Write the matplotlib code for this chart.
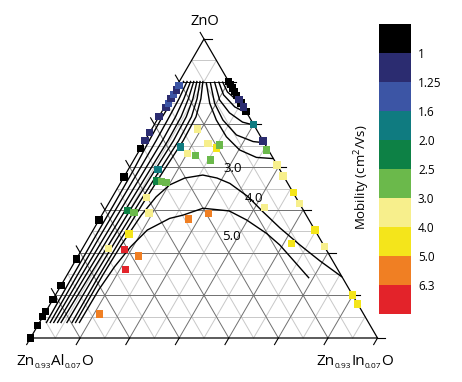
import numpy as np
import matplotlib
matplotlib.use('Agg')
import matplotlib.pyplot as plt
from matplotlib.colors import ListedColormap, BoundaryNorm
import matplotlib.cm as cm

plt.rcParams['font.family'] = ['Open Sans', 'DejaVu Sans']
plt.rcParams['mathtext.fontset'] = 'custom'
plt.rcParams['mathtext.rm'] = 'Open Sans'

# ---------------- data ----------------
band_colors = ['#000000', '#2b2c70', '#3c55a5', '#0f7b80', '#0d8145',
               '#6bb94b', '#f7ef8c', '#f4e51b', '#f07f23', '#e3232a']
band_labels = ['1', '1.25', '1.6', '2.0', '2.5', '3.0', '4.0', '5.0', '6.3']
top_label = 'ZnO'
left_label_parts = [('Zn', 0), ('0.93', 1), ('Al', 0), ('0.07', 1), ('O', 0)]
right_label_parts = [('Zn', 0), ('0.93', 1), ('In', 0), ('0.07', 1), ('O', 0)]

# measured compositions: ZnO fraction, Zn0.93In0.07O fraction, mobility band
pt_zno = [0.0, 0.041, 0.071, 0.088, 0.129, 0.175, 0.264, 0.395, 0.538, 0.634,
          0.660, 0.687, 0.740, 0.770, 0.785, 0.800, 0.815, 0.830, 0.845,
          0.858, 0.848, 0.836, 0.824, 0.812, 0.786, 0.758, 0.798, 0.772,
          0.715, 0.659, 0.629, 0.579, 0.542, 0.486, 0.450, 0.361, 0.305, 0.144, 0.114,
          0.699, 0.651, 0.636, 0.645, 0.616, 0.611, 0.595, 0.639, 0.563,
          0.525, 0.524, 0.520, 0.470, 0.426, 0.420, 0.418, 0.348, 0.300,
          0.297, 0.274, 0.230, 0.080, 0.398, 0.417, 0.437, 0.317]
pt_in = [0.0, 0.0, 0.0, 0.0, 0.0, 0.0, 0.0, 0.0, 0.0, 0.0,
         0.0, 0.0, 0.0, 0.005, 0.005, 0.005, 0.005, 0.005, 0.005,
         0.142, 0.152, 0.164, 0.176, 0.188, 0.214, 0.242, 0.202, 0.228,
         0.285, 0.341, 0.365, 0.421, 0.457, 0.514, 0.550, 0.639, 0.695, 0.856, 0.886,
         0.131, 0.186, 0.218, 0.222, 0.144, 0.170, 0.222, 0.113, 0.086,
         0.100, 0.115, 0.130, 0.100, 0.067, 0.088, 0.133, 0.110, 0.074,
         0.122, 0.174, 0.158, 0.158, 0.257, 0.305, 0.455, 0.594]
pt_band = [0, 0, 0, 0, 0, 0, 0, 0, 0, 0,
           1, 1, 1, 1, 2, 1, 2, 1, 2,
           0, 0, 0, 0, 0, 0, 0, 1, 1,
           3, 1, 5, 6, 6, 7, 6, 7, 6, 7, 7,
           6, 6, 7, 5, 6, 5, 5, 3, 3,
           4, 5, 5, 6, 4, 5, 6, 7, 6,
           9, 8, 9, 8, 8, 8, 6, 7]

# iso-mobility contour lines as (ZnO fraction, In fraction) pairs
left_t = [0.86, 0.80, 0.74, 0.66, 0.56, 0.45, 0.33, 0.20, 0.05]
left_c = [
    [0.012, 0.012, 0.010, 0.012, 0.016, 0.017, 0.017, 0.018, 0.020],
    [0.022, 0.028, 0.030, 0.032, 0.032, 0.031, 0.030, 0.030, 0.031],
    [0.032, 0.042, 0.048, 0.050, 0.048, 0.046, 0.044, 0.042, 0.041],
    [0.041, 0.055, 0.064, 0.066, 0.063, 0.060, 0.057, 0.054, 0.052],
    [0.050, 0.068, 0.079, 0.082, 0.078, 0.074, 0.070, 0.066, 0.062],
    [0.059, 0.080, 0.094, 0.097, 0.092, 0.087, 0.083, 0.080, 0.079],
    [0.067, 0.091, 0.107, 0.110, 0.104, 0.099, 0.095, 0.093, 0.094],
]
contours = [list(zip(left_t, cs)) for cs in left_c] + [
    # top-right family
    [(0.855, 0.079), (0.785, 0.124), (0.729, 0.171), (0.673, 0.228), (0.629, 0.288), (0.604, 0.349), (0.600, 0.400)],
    [(0.856, 0.090), (0.785, 0.138), (0.729, 0.190), (0.679, 0.254), (0.657, 0.313), (0.653, 0.347)],
    [(0.858, 0.101), (0.796, 0.147), (0.753, 0.197), (0.722, 0.250), (0.712, 0.288)],
    [(0.858, 0.113), (0.813, 0.150), (0.773, 0.202), (0.756, 0.239), (0.751, 0.249)],
    [(0.858, 0.124), (0.823, 0.156), (0.793, 0.200), (0.776, 0.224)],
    [(0.858, 0.135), (0.829, 0.165), (0.803, 0.197)],
    # upper arch
    [(0.204, 0.796), (0.258, 0.705), (0.311, 0.621), (0.368, 0.535), (0.422, 0.459), (0.473, 0.390),
     (0.517, 0.316), (0.535, 0.270), (0.545, 0.224), (0.535, 0.177), (0.512, 0.145), (0.472, 0.126),
     (0.411, 0.114), (0.311, 0.106), (0.211, 0.103), (0.05, 0.104)],
    # lower arch
    [(0.200, 0.703), (0.254, 0.635), (0.311, 0.563), (0.350, 0.505), (0.395, 0.425), (0.425, 0.360),
     (0.434, 0.280), (0.411, 0.234), (0.400, 0.201), (0.361, 0.156), (0.305, 0.136), (0.238, 0.123),
     (0.161, 0.116), (0.05, 0.115)],
]
contour_text = ['3.0', '4.0', '5.0']
contour_text_pos = [(0.568, 0.299), (0.468, 0.410), (0.341, 0.410)]  # (ZnO, In)

ndiv = 14

# ---------------- helpers ----------------
S3 = np.sqrt(3) / 2


def xy(t, c):
    t = np.asarray(t, float)
    c = np.asarray(c, float)
    return c + t / 2, t * S3


W, H = 462, 382
fig = plt.figure(figsize=(W / 100, H / 100), dpi=100)
ax = fig.add_axes([0, 0, 1, 1])
px_l, px_r, px_b, px_t = 30.5, 377.5, 338.0, 39.0
sx = px_r - px_l
sy = (px_b - px_t) / S3
ax.set_xlim(-px_l / sx, (W - px_l) / sx)
ax.set_ylim(-(H - px_b) / sy, px_b / sy)
ax.axis('off')

minor_c = '#c8c8c8'
major_c = '#707070'
tick = 0.022
for i in range(1, ndiv):
    f = i / ndiv
    col = major_c if i % 2 == 0 else minor_c
    z = 1 if i % 2 == 0 else 0.5
    x0, y0 = xy(f, 0)
    x1, y1 = xy(f, 1 - f)
    hcol = '#1a1a1a' if i == ndiv - 2 else col
    ax.plot([x0, x1], [y0, y1], color=hcol, lw=0.7, zorder=z)
    x0, y0 = xy(0, f)
    x1, y1 = xy(1 - f, f)
    ax.plot([x0, x1], [y0, y1], color=col, lw=0.7, zorder=z)
    x0, y0 = xy(0, 1 - f)
    x1, y1 = xy(1 - f, 0)
    ax.plot([x0, x1], [y0, y1], color=col, lw=0.7, zorder=z)

for i in range(0, ndiv + 1, 2):
    f = i / ndiv
    x1, y1 = xy(f, 1 - f)
    ax.plot([x1, x1 + tick], [y1, y1], color='black', lw=0.8, zorder=3)
    x0, y0 = xy(0, f)
    ax.plot([x0, x0 - tick * 0.5], [y0, y0 - tick * S3], color='black', lw=0.8, zorder=3)
    if i < ndiv:
        x1, y1 = xy(1 - f, 0)
        ax.plot([x1, x1 - tick * 0.5], [y1, y1 + tick * S3], color='black', lw=0.8, zorder=3)

tx, ty = xy([0, 0, 1, 0], [0, 1, 0, 0])
ax.plot(tx, ty, color='black', lw=0.9, zorder=3)

for line in contours:
    tt = [p[0] for p in line]
    cc = [p[1] for p in line]
    lx, ly = xy(tt, cc)
    ax.plot(lx, ly, color='black', lw=1.0, zorder=4, solid_capstyle='butt')

for lab, (t, c) in zip(contour_text, contour_text_pos):
    lx, ly = xy(t, c)
    ax.text(lx, ly, lab, fontsize=9.5, ha='center', va='center', zorder=6)

px, py = xy(pt_zno, pt_in)
ax.scatter(px, py, s=28, marker='s', c=[band_colors[b] for b in pt_band],
           linewidths=0, zorder=5)

# vertex labels
fig.text(204.5 / W, 1 - 25 / H, top_label, fontsize=10.5, ha='center', va='baseline')

renderer = fig.canvas.get_renderer()


def chem_label(parts, x_px, base_px, anchor):
    widths = []
    for s, sub in parts:
        t = fig.text(0, 0, s, fontsize=6 if sub else 11)
        widths.append(t.get_window_extent(renderer).width)
        t.remove()
    total = sum(widths)
    x = x_px if anchor == 'left' else x_px - total
    for (s, sub), w in zip(parts, widths):
        yb = base_px + (3 if sub else 0)
        fig.text(x / W, 1 - yb / H, s, fontsize=6 if sub else 11, va='baseline', ha='left')
        x += w


chem_label(left_label_parts, 16.5, 365, 'left')
chem_label(right_label_parts, 393, 365, 'right')

# colorbar
cax = fig.add_axes([379 / W, 1 - 314 / H, 32 / W, 290 / H])
cmap = ListedColormap(band_colors)
norm = BoundaryNorm(np.arange(len(band_colors) + 1), len(band_colors))
cb = fig.colorbar(cm.ScalarMappable(norm=norm, cmap=cmap), cax=cax,
                  ticks=np.arange(1, len(band_colors)))
cb.ax.invert_yaxis()
cb.ax.minorticks_off()
cb.outline.set_visible(False)
cb.ax.set_yticklabels(band_labels)
cb.ax.tick_params(length=0, labelsize=8.5, pad=5)
fig.text(362 / W, 1 - 177 / H, 'Mobility (cm$^2$/Vs)', rotation=90,
         fontsize=9.5, ha='center', va='center')

fig.savefig('out.png', dpi=100)
